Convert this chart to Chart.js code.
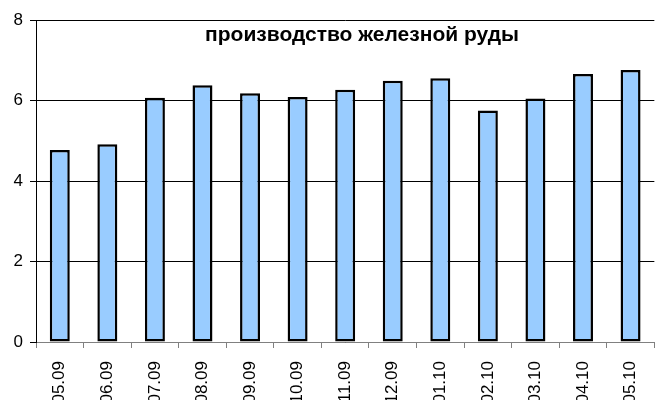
<!DOCTYPE html>
<html>
<head>
<meta charset="utf-8">
<script src="https://cdn.jsdelivr.net/npm/chart.js@4/dist/chart.umd.min.js"></script>
<style>
html,body{margin:0;padding:0;background:#fff;overflow:hidden;}
#wrap{width:664px;height:400px;position:relative;}
</style>
</head>
<body>
<div id="wrap"><canvas id="c"></canvas></div>
<script>
const categories = ["05.09","06.09","07.09","08.09","09.09","10.09","11.09","12.09","01.10","02.10","03.10","04.10","05.10"];
const values = [4.77, 4.91, 6.07, 6.38, 6.18, 6.09, 6.27, 6.49, 6.55, 5.75, 6.05, 6.66, 6.76];
const yTicks = [0, 2, 4, 6, 8];
const titleText = "производство железной руды";

const titlePlugin = {
  id: 'innerTitle',
  afterDatasetsDraw(chart) {
    const ctx = chart.ctx;
    ctx.save();
    ctx.font = "bold 21px 'Liberation Sans', Arial, sans-serif";
    ctx.fillStyle = "#000";
    ctx.textAlign = "center";
    ctx.textBaseline = "middle";
    ctx.fillText(titleText, 362, 35);
    ctx.restore();
  }
};

new Chart(document.getElementById('c'), {
  type: 'bar',
  data: {
    labels: categories,
    datasets: [{
      data: values,
      backgroundColor: '#99CCFF',
      borderColor: '#000',
      borderWidth: 2.5,
      borderSkipped: false,
      barPercentage: 0.84,
      categoryPercentage: 0.5
    }]
  },
  options: {
    responsive: true,
    maintainAspectRatio: false,
    animation: false,
    devicePixelRatio: 1,
    layout: { padding: { top: 20, right: 1, left: 0, bottom: 0 } },
    plugins: { legend: { display: false }, tooltip: { enabled: false } },
    scales: {
      x: {
        grid: { display: true, drawOnChartArea: false, drawTicks: true, tickLength: 6, color: '#808080', offset: true },
        border: { display: true, color: '#808080', width: 1 },
        ticks: {
          color: '#000', font: { family: "'Liberation Sans', Arial, sans-serif", size: 17 },
          minRotation: 90, maxRotation: 90, autoSkip: false, padding: 13
        },
        afterFit(s) { s.height = 58; }
      },
      y: {
        min: 0, max: 8,
        afterBuildTicks(s) { s.ticks = yTicks.map(v => ({ value: v })); },
        grid: { color: '#000', tickLength: 6, drawTicks: true },
        border: { display: true, color: '#000', width: 1 },
        ticks: {
          color: '#000', font: { family: "'Liberation Sans', Arial, sans-serif", size: 17 }, padding: 7
        },
        afterFit(s) { s.width = 36; }
      }
    }
  },
  plugins: [titlePlugin]
});
</script>
</body>
</html>
